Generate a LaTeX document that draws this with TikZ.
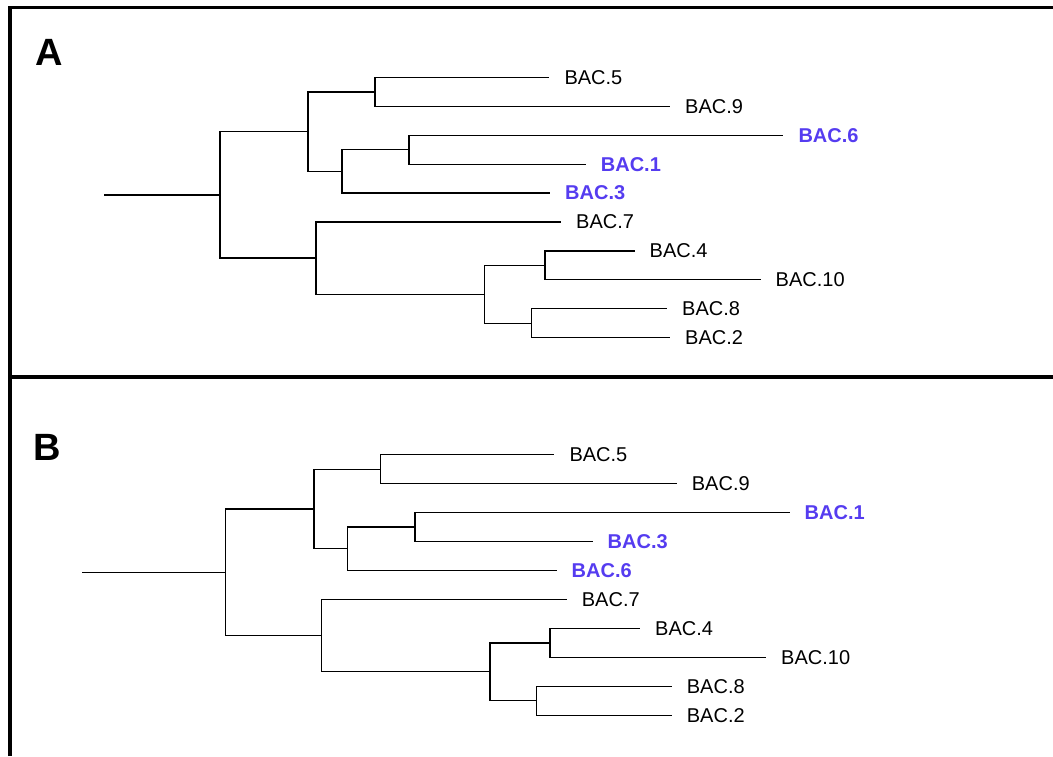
\documentclass[tikz,border=0pt]{standalone}
\usepackage{fontspec}
\setmainfont{Liberation Sans}
\usepackage{tikz}
\usepackage{xcolor}
\usetikzlibrary{positioning}
\definecolor{bleuBAC}{RGB}{85,60,240}
\tikzset{
Branche/.style={
 draw=black, 
 line width=1.3pt
 },
Cadre/.style={
 draw=black, 
 line width=3.3pt
 },
Etiquette/.style={
 anchor=west, 
 inner sep=0pt, 
 font=\fontsize{20}{24}\selectfont
 },
EtiquetteBleue/.style={
 Etiquette, 
 text=bleuBAC, 
 font=\fontsize{20}{24}\selectfont\bfseries
 },
Lettre/.style={
 anchor=base west, 
 inner sep=0pt, 
 font=\fontsize{38}{44}\selectfont\bfseries
 }
}

\begin{document}
\begin{tikzpicture}[x=1pt,y=-1pt]
\useasboundingbox (0,0) rectangle (1053,756);
\draw[Cadre] (10,756) -- (10,7.5) -- (1053,7.5);
\draw[Cadre] (10,377) -- (1053,377);
\node[Lettre] (pA) at (35,65.7) {A};
\node[Lettre] (pB) at (33.5,460) {B};

\coordinate (rA) at (104,194.9);
\coordinate (a1) at (220,194.9);
\coordinate (a2) at (308,131.7);
\coordinate (a3) at (375,91.95);
\coordinate (a4) at (342,171.4);
\coordinate (a5) at (409,149.75);
\coordinate (a7) at (316,258.1);
\coordinate (a8) at (484.5,294.25);
\coordinate (a9) at (545,265.35);
\coordinate (a10) at (531.5,323.15);
\coordinate (tA5) at (549.3,77.5);
\coordinate (tA9) at (670,106.4);
\coordinate (tA6) at (783.3,135.3);
\coordinate (tA1) at (585.7,164.2);
\coordinate (tA3) at (550,193.1);
\coordinate (tA7) at (561,222);
\coordinate (tA4) at (634.5,250.9);
\coordinate (tA10) at (760.5,279.8);
\coordinate (tA8) at (667,308.7);
\coordinate (tA2) at (670,337.6);
\node[Etiquette, right=15pt of tA5] (lA5) {BAC.5};
\node[Etiquette, right=15pt of tA9] (lA9) {BAC.9};
\node[EtiquetteBleue, right=15pt of tA6] (lA6) {BAC.6};
\node[EtiquetteBleue, right=15pt of tA1] (lA1) {BAC.1};
\node[EtiquetteBleue, right=15pt of tA3] (lA3) {BAC.3};
\node[Etiquette, right=15pt of tA7] (lA7) {BAC.7};
\node[Etiquette, right=15pt of tA4] (lA4) {BAC.4};
\node[Etiquette, right=15pt of tA10] (lA10) {BAC.10};
\node[Etiquette, right=15pt of tA8] (lA8) {BAC.8};
\node[Etiquette, right=15pt of tA2] (lA2) {BAC.2};
\draw[Branche] (rA) -- (a1) (a1) |- (a2) (a1) |- (a7);
\draw[Branche] (a2) |- (a3) (a2) |- (a4) (a3) |- (tA5) (a3) |- (tA9);
\draw[Branche] (a4) |- (a5) (a4) |- (tA3) (a5) |- (tA6) (a5) |- (tA1);
\draw[Branche] (a7) |- (tA7) (a7) |- (a8) (a8) |- (a9) (a8) |- (a10);
\draw[Branche] (a9) |- (tA4) (a9) |- (tA10) (a10) |- (tA8) (a10) |- (tA2);

\coordinate (rB) at (82,572.3);
\coordinate (b1) at (225.7,572.3);
\coordinate (b2) at (314,509);
\coordinate (b3) at (380.7,469.15);
\coordinate (b4) at (347.7,548.8);
\coordinate (b5) at (415,527.05);
\coordinate (b7) at (321.7,635.6);
\coordinate (b8) at (490,671.8);
\coordinate (b9) at (550,642.85);
\coordinate (b10) at (536.7,700.75);
\coordinate (tB5) at (554.3,454.7);
\coordinate (tB9) at (676.7,483.6);
\coordinate (tB1) at (789.5,512.6);
\coordinate (tB3) at (592.5,541.5);
\coordinate (tB6) at (556.5,570.5);
\coordinate (tB7) at (566.7,599.4);
\coordinate (tB4) at (640,628.4);
\coordinate (tB10) at (766,657.3);
\coordinate (tB8) at (671.7,686.3);
\coordinate (tB2) at (671.7,715.2);
\node[Etiquette, right=15pt of tB5] (lB5) {BAC.5};
\node[Etiquette, right=15pt of tB9] (lB9) {BAC.9};
\node[EtiquetteBleue, right=15pt of tB1] (lB1) {BAC.1};
\node[EtiquetteBleue, right=15pt of tB3] (lB3) {BAC.3};
\node[EtiquetteBleue, right=15pt of tB6] (lB6) {BAC.6};
\node[Etiquette, right=15pt of tB7] (lB7) {BAC.7};
\node[Etiquette, right=15pt of tB4] (lB4) {BAC.4};
\node[Etiquette, right=15pt of tB10] (lB10) {BAC.10};
\node[Etiquette, right=15pt of tB8] (lB8) {BAC.8};
\node[Etiquette, right=15pt of tB2] (lB2) {BAC.2};
\draw[Branche] (rB) -- (b1) (b1) |- (b2) (b1) |- (b7);
\draw[Branche] (b2) |- (b3) (b2) |- (b4) (b3) |- (tB5) (b3) |- (tB9);
\draw[Branche] (b4) |- (b5) (b4) |- (tB6) (b5) |- (tB1) (b5) |- (tB3);
\draw[Branche] (b7) |- (tB7) (b7) |- (b8) (b8) |- (b9) (b8) |- (b10);
\draw[Branche] (b9) |- (tB4) (b9) |- (tB10) (b10) |- (tB8) (b10) |- (tB2);
\end{tikzpicture}
\end{document}
